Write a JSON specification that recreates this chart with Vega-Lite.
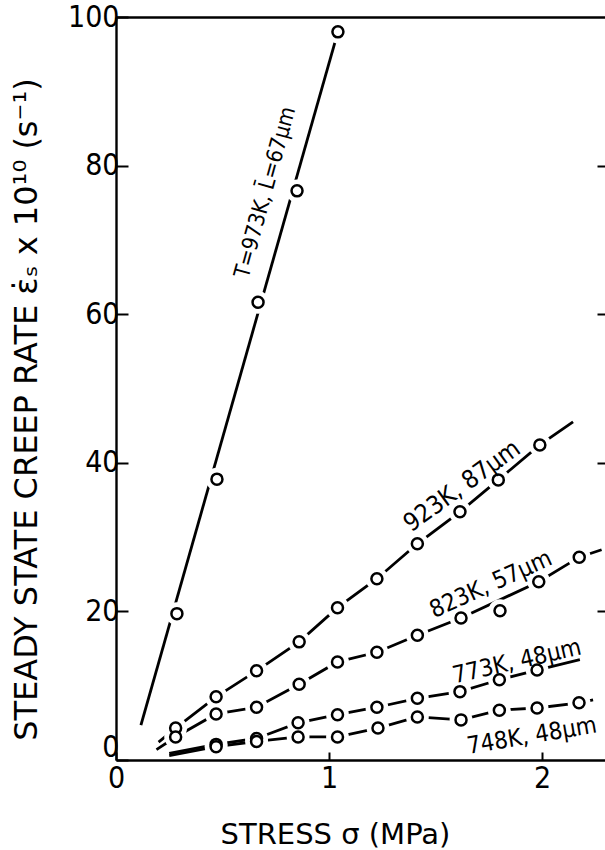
{
  "$schema": "https://vega.github.io/schema/vega-lite/v6.json",
  "autosize": "none",
  "width": 489,
  "height": 743,
  "padding": {"left": 116, "top": 17, "right": 0, "bottom": 90},
  "background": "white",
  "config": {"view": {"stroke": null}},
  "datasets": {
    "lines": [
      {"series": "973K", "ord": 1, "x": 0.117, "y": 4.7},
      {"series": "973K", "ord": 2, "x": 1.042, "y": 98.0},
      {"series": "923K", "ord": 1, "x": 0.2, "y": 2.4},
      {"series": "923K", "ord": 2, "x": 0.28, "y": 4.3},
      {"series": "923K", "ord": 3, "x": 0.47, "y": 8.5},
      {"series": "923K", "ord": 4, "x": 0.66, "y": 12.0},
      {"series": "923K", "ord": 5, "x": 0.86, "y": 15.9},
      {"series": "923K", "ord": 6, "x": 1.04, "y": 20.5},
      {"series": "923K", "ord": 7, "x": 1.225, "y": 24.4},
      {"series": "923K", "ord": 8, "x": 1.415, "y": 29.1},
      {"series": "923K", "ord": 9, "x": 1.615, "y": 33.4},
      {"series": "923K", "ord": 10, "x": 1.795, "y": 37.7},
      {"series": "923K", "ord": 11, "x": 1.99, "y": 42.4},
      {"series": "923K", "ord": 12, "x": 2.146, "y": 45.5},
      {"series": "823K", "ord": 1, "x": 0.19, "y": 1.4},
      {"series": "823K", "ord": 2, "x": 0.28, "y": 3.1},
      {"series": "823K", "ord": 3, "x": 0.47, "y": 6.2},
      {"series": "823K", "ord": 4, "x": 0.66, "y": 7.1},
      {"series": "823K", "ord": 5, "x": 0.86, "y": 10.2},
      {"series": "823K", "ord": 6, "x": 1.04, "y": 13.2},
      {"series": "823K", "ord": 7, "x": 1.225, "y": 14.5},
      {"series": "823K", "ord": 8, "x": 1.415, "y": 16.8},
      {"series": "823K", "ord": 9, "x": 1.62, "y": 19.1},
      {"series": "823K", "ord": 10, "x": 1.985, "y": 24.0},
      {"series": "823K", "ord": 11, "x": 2.175, "y": 27.3},
      {"series": "823K", "ord": 12, "x": 2.28, "y": 28.3},
      {"series": "773K", "ord": 1, "x": 0.25, "y": 0.9},
      {"series": "773K", "ord": 2, "x": 0.47, "y": 2.1},
      {"series": "773K", "ord": 3, "x": 0.66, "y": 2.9},
      {"series": "773K", "ord": 4, "x": 0.855, "y": 5.0},
      {"series": "773K", "ord": 5, "x": 1.04, "y": 6.1},
      {"series": "773K", "ord": 6, "x": 1.225, "y": 7.1},
      {"series": "773K", "ord": 7, "x": 1.415, "y": 8.3},
      {"series": "773K", "ord": 8, "x": 1.615, "y": 9.2},
      {"series": "773K", "ord": 9, "x": 1.8, "y": 10.8},
      {"series": "773K", "ord": 10, "x": 1.977, "y": 12.1},
      {"series": "773K", "ord": 11, "x": 2.178, "y": 13.5},
      {"series": "748K", "ord": 1, "x": 0.25, "y": 0.6},
      {"series": "748K", "ord": 2, "x": 0.47, "y": 1.8},
      {"series": "748K", "ord": 3, "x": 0.66, "y": 2.5},
      {"series": "748K", "ord": 4, "x": 0.855, "y": 3.1},
      {"series": "748K", "ord": 5, "x": 1.04, "y": 3.1},
      {"series": "748K", "ord": 6, "x": 1.23, "y": 4.3},
      {"series": "748K", "ord": 7, "x": 1.415, "y": 5.8},
      {"series": "748K", "ord": 8, "x": 1.62, "y": 5.4},
      {"series": "748K", "ord": 9, "x": 1.8, "y": 6.7},
      {"series": "748K", "ord": 10, "x": 1.977, "y": 7.0},
      {"series": "748K", "ord": 11, "x": 2.174, "y": 7.7},
      {"series": "748K", "ord": 12, "x": 2.24, "y": 8.1}
    ],
    "points": [
      {"series": "973K", "x": 0.286, "y": 19.7},
      {"series": "973K", "x": 0.474, "y": 37.8},
      {"series": "973K", "x": 0.667, "y": 61.6},
      {"series": "973K", "x": 0.85, "y": 76.6},
      {"series": "973K", "x": 1.042, "y": 98.0},
      {"series": "923K", "x": 0.28, "y": 4.3},
      {"series": "923K", "x": 0.47, "y": 8.5},
      {"series": "923K", "x": 0.66, "y": 12.0},
      {"series": "923K", "x": 0.86, "y": 15.9},
      {"series": "923K", "x": 1.04, "y": 20.5},
      {"series": "923K", "x": 1.225, "y": 24.4},
      {"series": "923K", "x": 1.415, "y": 29.1},
      {"series": "923K", "x": 1.615, "y": 33.4},
      {"series": "923K", "x": 1.795, "y": 37.7},
      {"series": "923K", "x": 1.99, "y": 42.4},
      {"series": "823K", "x": 0.28, "y": 3.1},
      {"series": "823K", "x": 0.47, "y": 6.2},
      {"series": "823K", "x": 0.66, "y": 7.1},
      {"series": "823K", "x": 0.86, "y": 10.2},
      {"series": "823K", "x": 1.04, "y": 13.2},
      {"series": "823K", "x": 1.225, "y": 14.5},
      {"series": "823K", "x": 1.415, "y": 16.8},
      {"series": "823K", "x": 1.62, "y": 19.1},
      {"series": "823K", "x": 1.803, "y": 20.1},
      {"series": "823K", "x": 1.985, "y": 24.0},
      {"series": "823K", "x": 2.175, "y": 27.3},
      {"series": "773K", "x": 0.47, "y": 2.1},
      {"series": "773K", "x": 0.66, "y": 2.9},
      {"series": "773K", "x": 0.855, "y": 5.0},
      {"series": "773K", "x": 1.04, "y": 6.1},
      {"series": "773K", "x": 1.225, "y": 7.1},
      {"series": "773K", "x": 1.415, "y": 8.3},
      {"series": "773K", "x": 1.615, "y": 9.2},
      {"series": "773K", "x": 1.8, "y": 10.8},
      {"series": "773K", "x": 1.977, "y": 12.1},
      {"series": "748K", "x": 0.47, "y": 1.8},
      {"series": "748K", "x": 0.66, "y": 2.5},
      {"series": "748K", "x": 0.855, "y": 3.1},
      {"series": "748K", "x": 1.04, "y": 3.1},
      {"series": "748K", "x": 1.23, "y": 4.3},
      {"series": "748K", "x": 1.415, "y": 5.8},
      {"series": "748K", "x": 1.62, "y": 5.4},
      {"series": "748K", "x": 1.8, "y": 6.7},
      {"series": "748K", "x": 1.977, "y": 7.0},
      {"series": "748K", "x": 2.174, "y": 7.7}
    ],
    "labels": [
      {"series": "973K", "x": 0.7, "y": 76.4, "text": "T=973K, L̄=67µm"},
      {"series": "923K", "x": 1.624, "y": 36.9, "text": "923K, 87µm"},
      {"series": "823K", "x": 1.761, "y": 23.6, "text": "823K, 57µm"},
      {"series": "773K", "x": 1.883, "y": 13.2, "text": "773K, 48µm"},
      {"series": "748K", "x": 1.953, "y": 3.2, "text": "748K, 48µm"}
    ]
  },
  "resolve": {"axis": {"x": "independent", "y": "independent"}},
  "layer": [
    {
      "data": {"name": "lines"},
      "mark": {"type": "line", "color": "black", "strokeWidth": 2.8},
      "encoding": {
        "x": {
          "field": "x", "type": "quantitative",
          "scale": {"domain": [0, 2.296], "nice": false, "zero": false},
          "axis": {
            "orient": "bottom", "values": [0, 1, 2], "format": "d",
            "tickSize": -8, "tickWidth": 2, "tickColor": "black",
            "domainWidth": 2.4, "domainColor": "black", "grid": false,
            "labelFont": "DejaVu Sans Condensed", "labelFontSize": 30, "labelColor": "black",
            "labelPadding": 11, "labelFlush": false, "labelOverlap": false,
            "title": "STRESS σ (MPa)", "titleFont": "DejaVu Sans", "titleFontSize": 29,
            "titleFontWeight": "normal", "titleColor": "black",
            "titleX": 219, "titleY": 83, "titleBaseline": "alphabetic", "titleAlign": "center"
          }
        },
        "y": {
          "field": "y", "type": "quantitative",
          "scale": {"domain": [0, 100], "nice": false},
          "axis": {
            "orient": "left", "values": [0, 20, 40, 60, 80, 100],
            "tickSize": -12, "tickWidth": 2, "tickColor": "black",
            "domainWidth": 2.4, "domainColor": "black", "grid": false,
            "labelFont": "DejaVu Sans Condensed", "labelFontSize": 30, "labelColor": "black",
            "labelPadding": 9, "labelFlush": false, "labelOverlap": false,
            "labelOffset": {"condition": {"test": "datum.value === 0", "value": -13}, "value": 0},
            "title": "STEADY STATE CREEP RATE ε̇ₛ x 10¹⁰ (s⁻¹)", "titleFont": "DejaVu Sans", "titleFontSize": 32,
            "titleFontWeight": "normal", "titleColor": "black",
            "titleX": -90, "titleY": 392, "titleAngle": 270, "titleBaseline": "middle", "titleAlign": "center"
          }
        },
        "detail": {"field": "series"},
        "order": {"field": "ord", "type": "quantitative"}
      }
    },
    {
      "data": {"name": "points"},
      "mark": {"type": "point", "shape": "circle", "filled": true, "color": "white", "opacity": 1, "size": 520},
      "encoding": {
        "x": {
          "field": "x", "type": "quantitative",
          "axis": {"orient": "top", "ticks": false, "labels": false, "title": null, "grid": false, "domain": true, "domainWidth": 2.4, "domainColor": "black"}
        },
        "y": {
          "field": "y", "type": "quantitative",
          "axis": {"orient": "right", "values": [20, 40, 60, 80], "tickSize": -8, "tickWidth": 2, "tickColor": "black", "labels": false, "domain": false, "title": null, "grid": false}
        }
      }
    },
    {
      "data": {"name": "points"},
      "mark": {"type": "point", "shape": "circle", "filled": false, "fill": "white", "fillOpacity": 1, "stroke": "black", "strokeWidth": 2.5, "opacity": 1, "size": 121},
      "encoding": {
        "x": {"field": "x", "type": "quantitative", "axis": null},
        "y": {"field": "y", "type": "quantitative", "axis": null}
      }
    },
    {
      "data": {"name": "labels"},
      "transform": [{"filter": "datum.series === '973K'"}],
      "mark": {"type": "text", "font": "DejaVu Sans Condensed", "fontSize": 22, "color": "black", "angle": -74.5, "align": "center", "baseline": "middle"},
      "encoding": {
        "x": {"field": "x", "type": "quantitative", "axis": null},
        "y": {"field": "y", "type": "quantitative", "axis": null},
        "text": {"field": "text"}
      }
    },
    {
      "data": {"name": "labels"},
      "transform": [{"filter": "datum.series === '923K'"}],
      "mark": {"type": "text", "font": "DejaVu Sans Condensed", "fontSize": 25, "color": "black", "angle": -36, "align": "center", "baseline": "middle"},
      "encoding": {
        "x": {"field": "x", "type": "quantitative", "axis": null},
        "y": {"field": "y", "type": "quantitative", "axis": null},
        "text": {"field": "text"}
      }
    },
    {
      "data": {"name": "labels"},
      "transform": [{"filter": "datum.series === '823K'"}],
      "mark": {"type": "text", "font": "DejaVu Sans Condensed", "fontSize": 24, "color": "black", "angle": -24.5, "align": "center", "baseline": "middle"},
      "encoding": {
        "x": {"field": "x", "type": "quantitative", "axis": null},
        "y": {"field": "y", "type": "quantitative", "axis": null},
        "text": {"field": "text"}
      }
    },
    {
      "data": {"name": "labels"},
      "transform": [{"filter": "datum.series === '773K'"}],
      "mark": {"type": "text", "font": "DejaVu Sans Condensed", "fontSize": 24, "color": "black", "angle": -13, "align": "center", "baseline": "middle"},
      "encoding": {
        "x": {"field": "x", "type": "quantitative", "axis": null},
        "y": {"field": "y", "type": "quantitative", "axis": null},
        "text": {"field": "text"}
      }
    },
    {
      "data": {"name": "labels"},
      "transform": [{"filter": "datum.series === '748K'"}],
      "mark": {"type": "text", "font": "DejaVu Sans Condensed", "fontSize": 24, "color": "black", "angle": -9.6, "align": "center", "baseline": "middle"},
      "encoding": {
        "x": {"field": "x", "type": "quantitative", "axis": null},
        "y": {"field": "y", "type": "quantitative", "axis": null},
        "text": {"field": "text"}
      }
    }
  ]
}
